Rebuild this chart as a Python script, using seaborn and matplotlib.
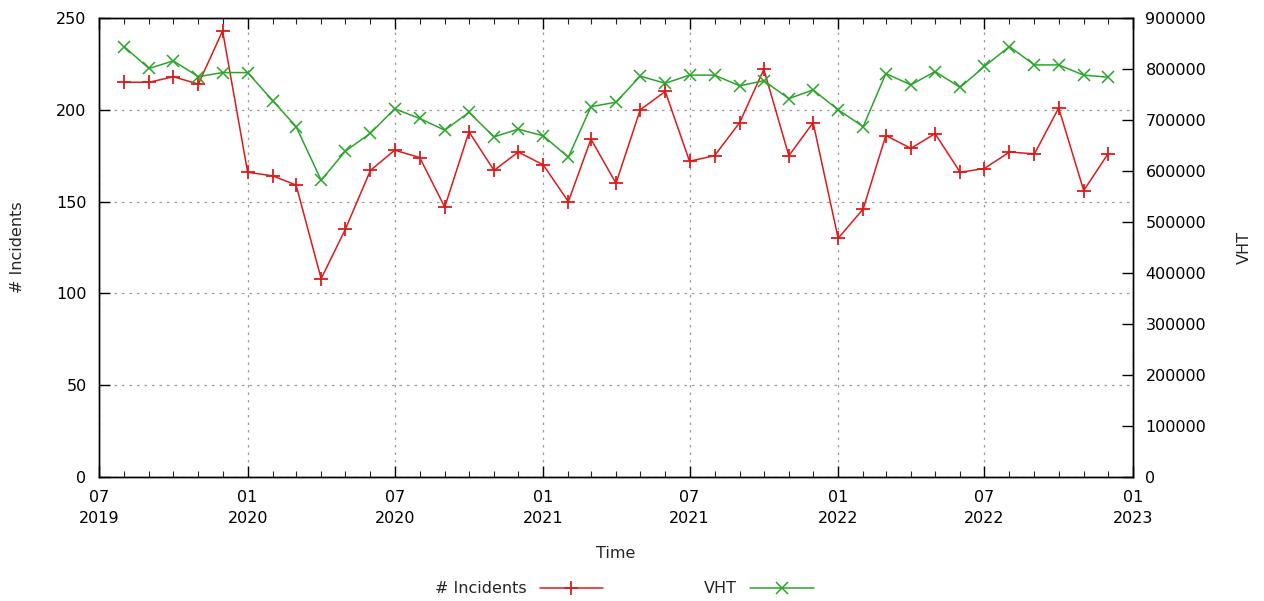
import matplotlib
matplotlib.use("Agg")
import matplotlib.pyplot as plt
import matplotlib.dates as mdates
from matplotlib.lines import Line2D
import seaborn as sns
import pandas as pd

months = ["2019-08", "2019-09", "2019-10", "2019-11", "2019-12",
          "2020-01", "2020-02", "2020-03", "2020-04", "2020-05", "2020-06",
          "2020-07", "2020-08", "2020-09", "2020-10", "2020-11", "2020-12",
          "2021-01", "2021-02", "2021-03", "2021-04", "2021-05", "2021-06",
          "2021-07", "2021-08", "2021-09", "2021-10", "2021-11", "2021-12",
          "2022-01", "2022-02", "2022-03", "2022-04", "2022-05", "2022-06",
          "2022-07", "2022-08", "2022-09", "2022-10", "2022-11", "2022-12"]

incidents = [215, 215, 218, 214, 243,
             166, 164, 159, 108, 135, 167,
             178, 174, 147, 188, 167, 177,
             170, 150, 184, 160, 200, 210,
             172, 175, 193, 222, 175, 193,
             130, 146, 186, 179, 187, 166,
             168, 177, 176, 201, 156, 176]

vht = [844000, 801000, 816000, 785000, 793000,
       793000, 738000, 687000, 582000, 639000, 674000,
       722000, 703000, 680000, 715000, 667000, 682000,
       669000, 627000, 726000, 735000, 786000, 772000,
       788000, 788000, 767000, 777000, 742000, 759000,
       720000, 687000, 791000, 769000, 795000, 764000,
       805000, 844000, 808000, 808000, 788000, 784000]

xticks = ["2019-07-01", "2020-01-01", "2020-07-01", "2021-01-01",
          "2021-07-01", "2022-01-01", "2022-07-01", "2023-01-01"]

df = pd.DataFrame({"month": pd.to_datetime(months),
                   "incidents": incidents, "vht": vht})

sns.set_theme(style="white")
plt.rcParams["font.family"] = ["DejaVu Sans"]

RED = "#dd1a1a"
GREEN = "#2aa52a"
FS = 11.5

fig = plt.figure(figsize=(12.64, 6.01), dpi=100)
ax = fig.add_axes([99 / 1264, 1 - 477 / 601, (1133 - 99) / 1264, (477 - 18) / 601])
ax2 = ax.twinx()

sns.lineplot(data=df, x="month", y="incidents", ax=ax, color=RED,
             marker="+", markersize=10, markeredgewidth=1.3, linewidth=1.1,
             markeredgecolor=RED)
sns.lineplot(data=df, x="month", y="vht", ax=ax2, color=GREEN,
             marker="x", markersize=8.5, markeredgewidth=1.1, linewidth=1.1,
             markeredgecolor=GREEN)

xt = pd.to_datetime(xticks)
ax.set_xlim(xt[0], xt[-1])
ax.set_ylim(0, 250)
ax2.set_ylim(0, 900000)
ax.set_xticks(xt)
ax.xaxis.set_major_formatter(mdates.DateFormatter("%m\n%Y"))
ax.xaxis.set_minor_locator(mdates.MonthLocator())
ax.set_yticks([0, 50, 100, 150, 200, 250])
ax2.set_yticks(range(0, 900001, 100000))
ax2.yaxis.set_major_formatter(matplotlib.ticker.FuncFormatter(lambda v, p: f"{int(v)}"))

for a in (ax, ax2):
    for s in a.spines.values():
        s.set_color("black")
        s.set_linewidth(1.0)

ax.tick_params(axis="x", which="major", direction="in", length=8, width=1,
               top=True, bottom=True, labelsize=FS, colors="black", pad=9)
ax.tick_params(axis="x", which="minor", direction="in", length=4, width=0.8,
               top=True, bottom=True)
ax.tick_params(axis="y", which="major", direction="in", length=8, width=1,
               left=True, right=False, labelsize=FS, colors="black", pad=9)
ax2.tick_params(axis="y", which="major", direction="in", length=8, width=1,
                right=True, left=False, labelsize=FS, colors="black", pad=9)
for lbl in ax.get_xticklabels():
    lbl.set_horizontalalignment("center")
    lbl.set_multialignment("center")
    lbl.set_linespacing(1.55)

ax.grid(True, which="major", axis="both", color="#9a9a9a", linestyle=(0, (2, 4)),
        linewidth=0.9)
ax2.grid(False)

ax.set_xlabel("Time", fontsize=FS, labelpad=14)
ax.set_ylabel("# Incidents", fontsize=FS, labelpad=22)
ax2.set_ylabel("VHT", fontsize=FS, labelpad=22)

handles = [Line2D([], [], color=RED, marker="+", markersize=10, markeredgewidth=1.3,
                  linewidth=1.1),
           Line2D([], [], color=GREEN, marker="x", markersize=8.5, markeredgewidth=1.1,
                  linewidth=1.1)]
fig.legend(handles, ["# Incidents", "VHT"], loc="lower center",
           bbox_to_anchor=(0.494, -0.016), ncol=2, frameon=False, markerfirst=False,
           fontsize=FS, handlelength=4, columnspacing=6.3, handletextpad=0.8)

fig.savefig("out.png", dpi=100)
